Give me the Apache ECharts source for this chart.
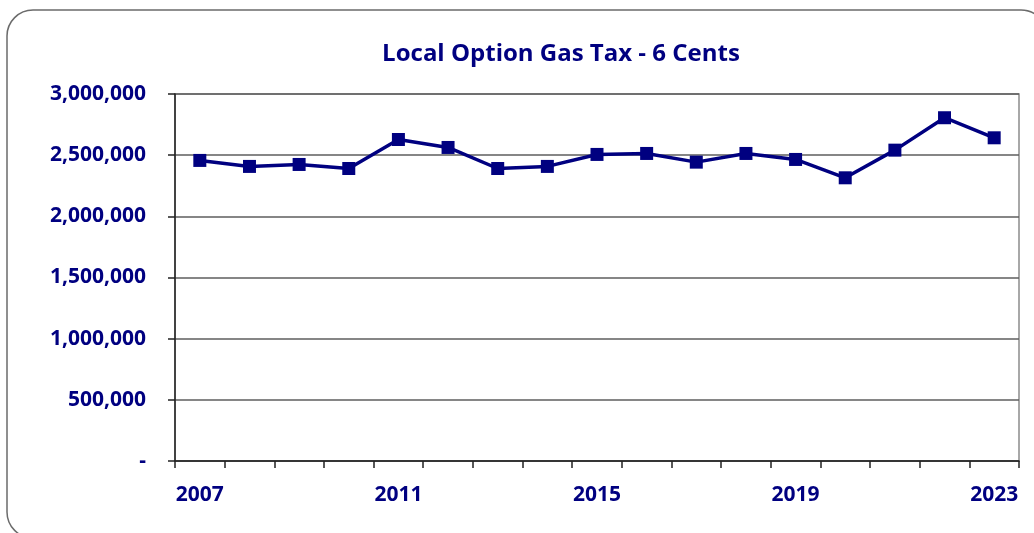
<!DOCTYPE html>
<html>
<head>
<meta charset="utf-8">
<script src="https://cdn.jsdelivr.net/npm/echarts@6/dist/echarts.min.js"></script>
<style>
  html, body { margin: 0; padding: 0; background: #fff; }
  #main { width: 1034px; height: 533px; }
</style>
</head>
<body>
<div id="main"></div>
<script>
    // data
    var years = ['2007', '2008', '2009', '2010', '2011', '2012', '2013', '2014', '2015',
                 '2016', '2017', '2018', '2019', '2020', '2021', '2022', '2023'];
    var revenue = [2457000, 2408000, 2424000, 2391000, 2628000, 2563000, 2391000, 2408000, 2506000,
                   2514000, 2443000, 2514000, 2465000, 2315000, 2541000, 2806000, 2642000];
    var yTicks = [0, 500000, 1000000, 1500000, 2000000, 2500000, 3000000];

    var navy = '#000080';
    var font = '"Open Sans", sans-serif';

    var myChart = echarts.init(document.getElementById('main'));

    var option = {
        backgroundColor: '#fff',
        animation: false,
        title: {
            text: 'Local Option Gas Tax - 6 Cents',
            left: 556,
            top: 37,
            textAlign: 'center',
            textStyle: { color: navy, fontFamily: font, fontWeight: 'bold', fontSize: 24 }
        },
        // outer rounded frame, runs off the right and bottom edges like the original
        graphic: [{
            type: 'rect',
            shape: { x: 7, y: 10, width: 1040, height: 528, r: 26 },
            style: { fill: 'none', stroke: '#6b6b6b', lineWidth: 1.5 },
            silent: true
        }],
        grid: {
            left: 175, right: 15, top: 94, bottom: 72,
            show: true, borderColor: '#8c8c8c', borderWidth: 1.5
        },
        xAxis: {
            type: 'category',
            data: years,
            boundaryGap: true,
            axisLine: { show: true, lineStyle: { color: '#222', width: 1.5 } },
            axisTick: { show: true, interval: 0, length: 7, lineStyle: { color: '#222', width: 1.5 } },
            axisLabel: { interval: 3, margin: 24, color: navy, fontFamily: font, fontWeight: 'bold', fontSize: 21 },
            splitLine: { show: false }
        },
        yAxis: {
            type: 'value',
            min: yTicks[0],
            max: yTicks[yTicks.length - 1],
            interval: yTicks[1] - yTicks[0],
            axisLine: { show: true, lineStyle: { color: '#222', width: 1.5 } },
            axisTick: { show: true, length: 7, lineStyle: { color: '#222', width: 1.5 } },
            axisLabel: {
                margin: 29, color: navy, fontFamily: font, fontWeight: 'bold', fontSize: 21,
                formatter: function (v) { return v === 0 ? '-' : v.toLocaleString('en-US'); }
            },
            splitLine: { show: true, lineStyle: { color: '#5e5e5e', width: 1.5 } }
        },
        series: [{
            type: 'line',
            data: revenue,
            symbol: 'rect',
            symbolSize: 13,
            lineStyle: { color: navy, width: 3.5 },
            itemStyle: { color: navy }
        }]
    };

    myChart.setOption(option);
</script>
</body>
</html>
